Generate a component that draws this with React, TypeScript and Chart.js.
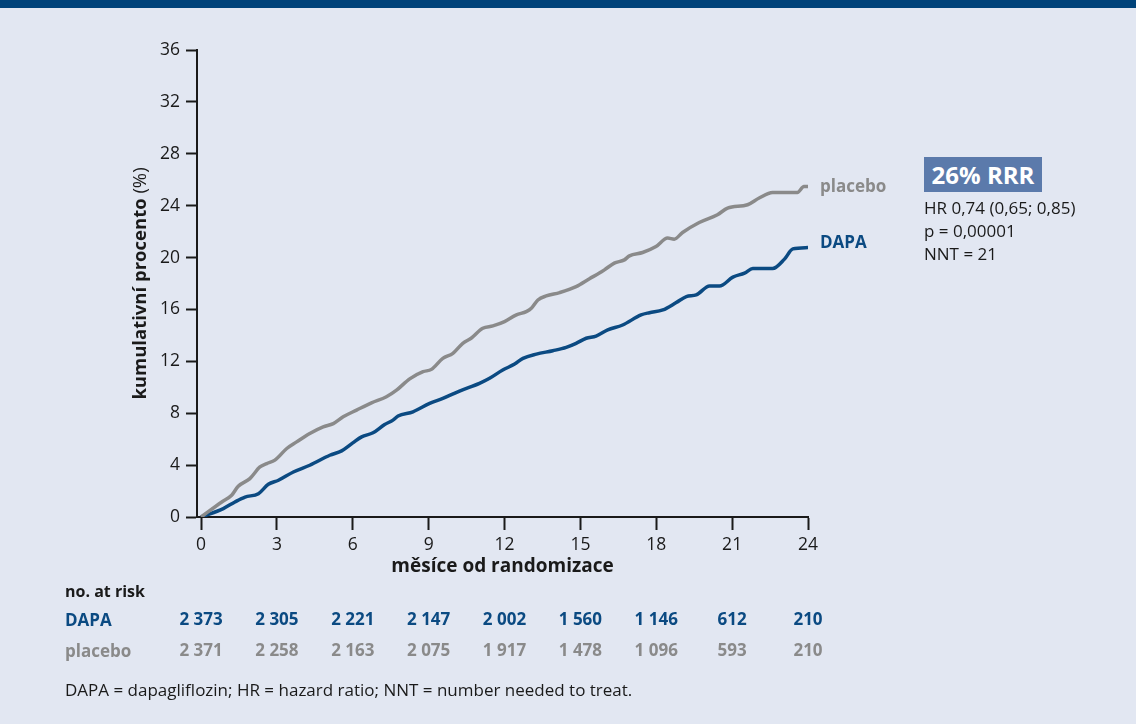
import React, { useEffect, useRef } from "react";
import { Chart, registerables } from "chart.js";

Chart.register(...registerables);

// ---------- data ----------
const X_TICKS = [0, 3, 6, 9, 12, 15, 18, 21, 24];
const Y_MIN = 0;
const Y_MAX = 36;
const Y_STEP = 4;

const DAPA_MONTHS = [
  0, 0.88, 1.34, 1.74, 2.27, 2.66, 3.06, 3.65, 4.3, 5.09, 5.56, 6.0, 6.35, 6.8, 7.26, 7.59, 7.79,
  8.38, 9.04, 9.56, 10.22, 11.01, 11.41, 11.93, 12.4, 12.73, 13.26, 13.91, 14.44, 14.83, 15.23,
  15.62, 16.08, 16.67, 17.4, 17.73, 18.26, 18.79, 19.19, 19.58, 20.11, 20.5, 21.03, 21.49, 21.82,
  22.6, 23.07, 23.4, 24.0,
];
const DAPA_VALUES = [
  0, 0.65, 1.16, 1.54, 1.8, 2.52, 2.83, 3.47, 3.99, 4.76, 5.1, 5.71, 6.18, 6.49, 7.13, 7.47, 7.78,
  8.11, 8.76, 9.14, 9.71, 10.3, 10.69, 11.33, 11.79, 12.23, 12.56, 12.82, 13.08, 13.39, 13.78,
  13.95, 14.42, 14.8, 15.58, 15.75, 15.96, 16.53, 16.99, 17.12, 17.81, 17.81, 18.49, 18.8, 19.15,
  19.15, 19.88, 20.67, 20.77,
];

const PLACEBO_MONTHS = [
  0, 0.82, 1.21, 1.47, 1.93, 2.33, 2.6, 2.92, 3.39, 3.78, 4.3, 4.83, 5.23, 5.62, 6.15, 6.74, 7.33,
  7.73, 8.25, 8.78, 9.11, 9.56, 9.96, 10.35, 10.68, 11.14, 11.54, 12.0, 12.47, 12.86, 13.06, 13.32,
  13.65, 14.18, 14.83, 15.36, 15.75, 15.95, 16.34, 16.74, 16.94, 17.46, 17.99, 18.45, 18.71, 19.04,
  19.7, 20.42, 20.82, 21.61, 22.07, 22.6, 23.58, 23.84, 24.0,
];
const PLACEBO_VALUES = [
  0, 1.16, 1.67, 2.37, 2.96, 3.86, 4.12, 4.38, 5.28, 5.79, 6.44, 6.95, 7.2, 7.72, 8.24, 8.8, 9.27,
  9.78, 10.65, 11.2, 11.38, 12.23, 12.62, 13.39, 13.78, 14.55, 14.73, 15.06, 15.58, 15.83, 16.09,
  16.73, 17.04, 17.3, 17.76, 18.37, 18.8, 19.05, 19.57, 19.82, 20.13, 20.39, 20.85, 21.5, 21.42,
  21.93, 22.7, 23.3, 23.81, 24.07, 24.59, 25.02, 25.02, 25.48, 25.48,
];

const DAPA_AT_RISK = ["2 373", "2 305", "2 221", "2 147", "2 002", "1 560", "1 146", "612", "210"];
const PLACEBO_AT_RISK = ["2 371", "2 258", "2 163", "2 075", "1 917", "1 478", "1 096", "593", "210"];

const SERIES_LABELS = ["placebo", "DAPA"];
const X_TITLE = "měsíce od randomizace";
const Y_TITLE_BOLD = "kumulativní procento ";
const Y_TITLE_REGULAR = "(%)";
const STATS_HEADLINE = "26% RRR";
const STATS_LINES = ["HR 0,74 (0,65; 0,85)", "p = 0,00001", "NNT = 21"];
const FOOTNOTE = "DAPA = dapagliflozin; HR = hazard ratio; NNT = number needed to treat.";

// ---------- styles ----------
const FONT = "'Open Sans', 'Noto Sans', sans-serif";
const NAVY = "#0b4a82";
const GREY = "#8a8a8a";
const INK = "#1a1a1a";
const BG = "#e2e7f2";
const BAR = "#00437a";
const BOX = "#5b7aab";

const overlayPlugin = {
  id: "overlay",
  afterDraw(chart: any) {
    const ctx = chart.ctx;
    const area = chart.chartArea;
    const xs = chart.scales.x;

    // y-axis title with mixed weights
    ctx.save();
    ctx.translate(141, (area.top + area.bottom) / 2);
    ctx.rotate(-Math.PI / 2);
    ctx.textBaseline = "middle";
    ctx.fillStyle = INK;
    ctx.font = `bold 18.5px ${FONT}`;
    const w1 = ctx.measureText(Y_TITLE_BOLD).width;
    ctx.font = `18.5px ${FONT}`;
    const w2 = ctx.measureText(Y_TITLE_REGULAR).width;
    const start = -(w1 + w2) / 2;
    ctx.textAlign = "left";
    ctx.font = `bold 18.5px ${FONT}`;
    ctx.fillText(Y_TITLE_BOLD, start, 0);
    ctx.font = `18.5px ${FONT}`;
    ctx.fillText(Y_TITLE_REGULAR, start + w1, 0);
    ctx.restore();

    // series end labels
    ctx.save();
    ctx.font = `bold 17px ${FONT}`;
    ctx.textAlign = "left";
    ctx.textBaseline = "middle";
    chart.data.datasets.forEach((ds: any, i: number) => {
      const meta = chart.getDatasetMeta(i);
      const last = meta.data[meta.data.length - 1];
      ctx.fillStyle = ds.borderColor;
      ctx.fillText(SERIES_LABELS[i], last.x + 12, last.y + (i === 1 ? -4 : 1));
    });
    ctx.restore();

    // numbers at risk
    ctx.save();
    ctx.font = `bold 17px ${FONT}`;
    ctx.textAlign = "center";
    ctx.textBaseline = "middle";
    X_TICKS.forEach((v, i) => {
      const px = xs.getPixelForValue(v);
      ctx.fillStyle = NAVY;
      ctx.fillText(DAPA_AT_RISK[i], px, 620);
      ctx.fillStyle = GREY;
      ctx.fillText(PLACEBO_AT_RISK[i], px, 651);
    });
    ctx.restore();
  },
};

export default function App() {
  const canvasRef = useRef<HTMLCanvasElement | null>(null);

  useEffect(() => {
    if (!canvasRef.current) return;
    const chart = new Chart(canvasRef.current, {
      type: "line",
      data: {
        datasets: [
          {
            label: SERIES_LABELS[0],
            data: PLACEBO_MONTHS.map((m, i) => ({ x: m, y: PLACEBO_VALUES[i] })),
            borderColor: GREY,
            borderWidth: 3.5,
            pointRadius: 0,
            cubicInterpolationMode: "monotone",
            fill: false,
          },
          {
            label: SERIES_LABELS[1],
            data: DAPA_MONTHS.map((m, i) => ({ x: m, y: DAPA_VALUES[i] })),
            borderColor: NAVY,
            borderWidth: 3.5,
            pointRadius: 0,
            cubicInterpolationMode: "monotone",
            fill: false,
          },
        ],
      },
      options: {
        responsive: false,
        animation: false,
        layout: { padding: { left: 127, right: 328, top: 50, bottom: 142 } },
        plugins: {
          legend: { display: false },
          tooltip: { enabled: false },
        },
        scales: {
          x: {
            type: "linear",
            min: -0.16,
            max: 24,
            afterBuildTicks: (s: any) => {
              s.ticks = X_TICKS.map((v) => ({ value: v }));
            },
            afterFit: (s: any) => {
              s.height = 65;
            },
            grid: {
              drawOnChartArea: false,
              drawTicks: true,
              tickLength: 13,
              tickWidth: 2,
              tickColor: INK,
            },
            border: { display: true, color: INK, width: 2 },
            ticks: {
              color: INK,
              font: { family: FONT, size: 17.5 },
              padding: 5,
              maxRotation: 0,
              autoSkip: false,
            },
            title: {
              display: true,
              text: X_TITLE,
              color: INK,
              font: { family: FONT, size: 19, weight: "bold" },
              padding: { top: 4, bottom: 4 },
            },
          },
          y: {
            type: "linear",
            min: Y_MIN,
            max: Y_MAX,
            afterFit: (s: any) => {
              s.width = 70;
            },
            grid: {
              drawOnChartArea: false,
              drawTicks: true,
              tickLength: 11,
              tickWidth: 2,
              tickColor: INK,
            },
            border: { display: true, color: INK, width: 2 },
            ticks: {
              stepSize: Y_STEP,
              color: INK,
              font: { family: FONT, size: 17.5 },
              padding: 6,
            },
          },
        },
      },
      plugins: [overlayPlugin],
    } as any);
    return () => chart.destroy();
  }, []);

  return (
    <div
      style={{
        position: "relative",
        width: 1136,
        height: 724,
        background: BG,
        overflow: "hidden",
        fontFamily: FONT,
        color: INK,
      }}
    >
      <style>{`body{margin:0;}`}</style>
      <div style={{ position: "absolute", left: 0, top: 0, width: 1136, height: 8, background: BAR }} />
      <canvas
        ref={canvasRef}
        width={1136}
        height={724}
        style={{ position: "absolute", left: 0, top: 0, width: 1136, height: 724 }}
      />
      <div
        style={{
          position: "absolute",
          left: 924,
          top: 157,
          width: 118,
          height: 35,
          background: BOX,
          color: "#ffffff",
          fontWeight: "bold",
          fontSize: 24,
          lineHeight: "35px",
          textAlign: "center",
          whiteSpace: "nowrap",
        }}
      >
        {STATS_HEADLINE}
      </div>
      {STATS_LINES.map((t, i) => (
        <div
          key={t}
          style={{
            position: "absolute",
            left: 924,
            top: 196 + i * 23,
            height: 23,
            lineHeight: "23px",
            fontSize: 17,
            whiteSpace: "nowrap",
          }}
        >
          {t}
        </div>
      ))}
      <div
        style={{
          position: "absolute",
          left: 65,
          top: 580,
          lineHeight: "22px",
          fontSize: 16,
          fontWeight: "bold",
          whiteSpace: "nowrap",
        }}
      >
        no. at risk
      </div>
      <div
        style={{
          position: "absolute",
          left: 65,
          top: 609,
          lineHeight: "22px",
          fontSize: 17,
          fontWeight: "bold",
          color: NAVY,
          whiteSpace: "nowrap",
        }}
      >
        DAPA
      </div>
      <div
        style={{
          position: "absolute",
          left: 65,
          top: 640,
          lineHeight: "22px",
          fontSize: 17,
          fontWeight: "bold",
          color: GREY,
          whiteSpace: "nowrap",
        }}
      >
        placebo
      </div>
      <div
        style={{
          position: "absolute",
          left: 65,
          top: 679,
          lineHeight: "22px",
          fontSize: 17,
          whiteSpace: "nowrap",
        }}
      >
        {FOOTNOTE}
      </div>
    </div>
  );
}
